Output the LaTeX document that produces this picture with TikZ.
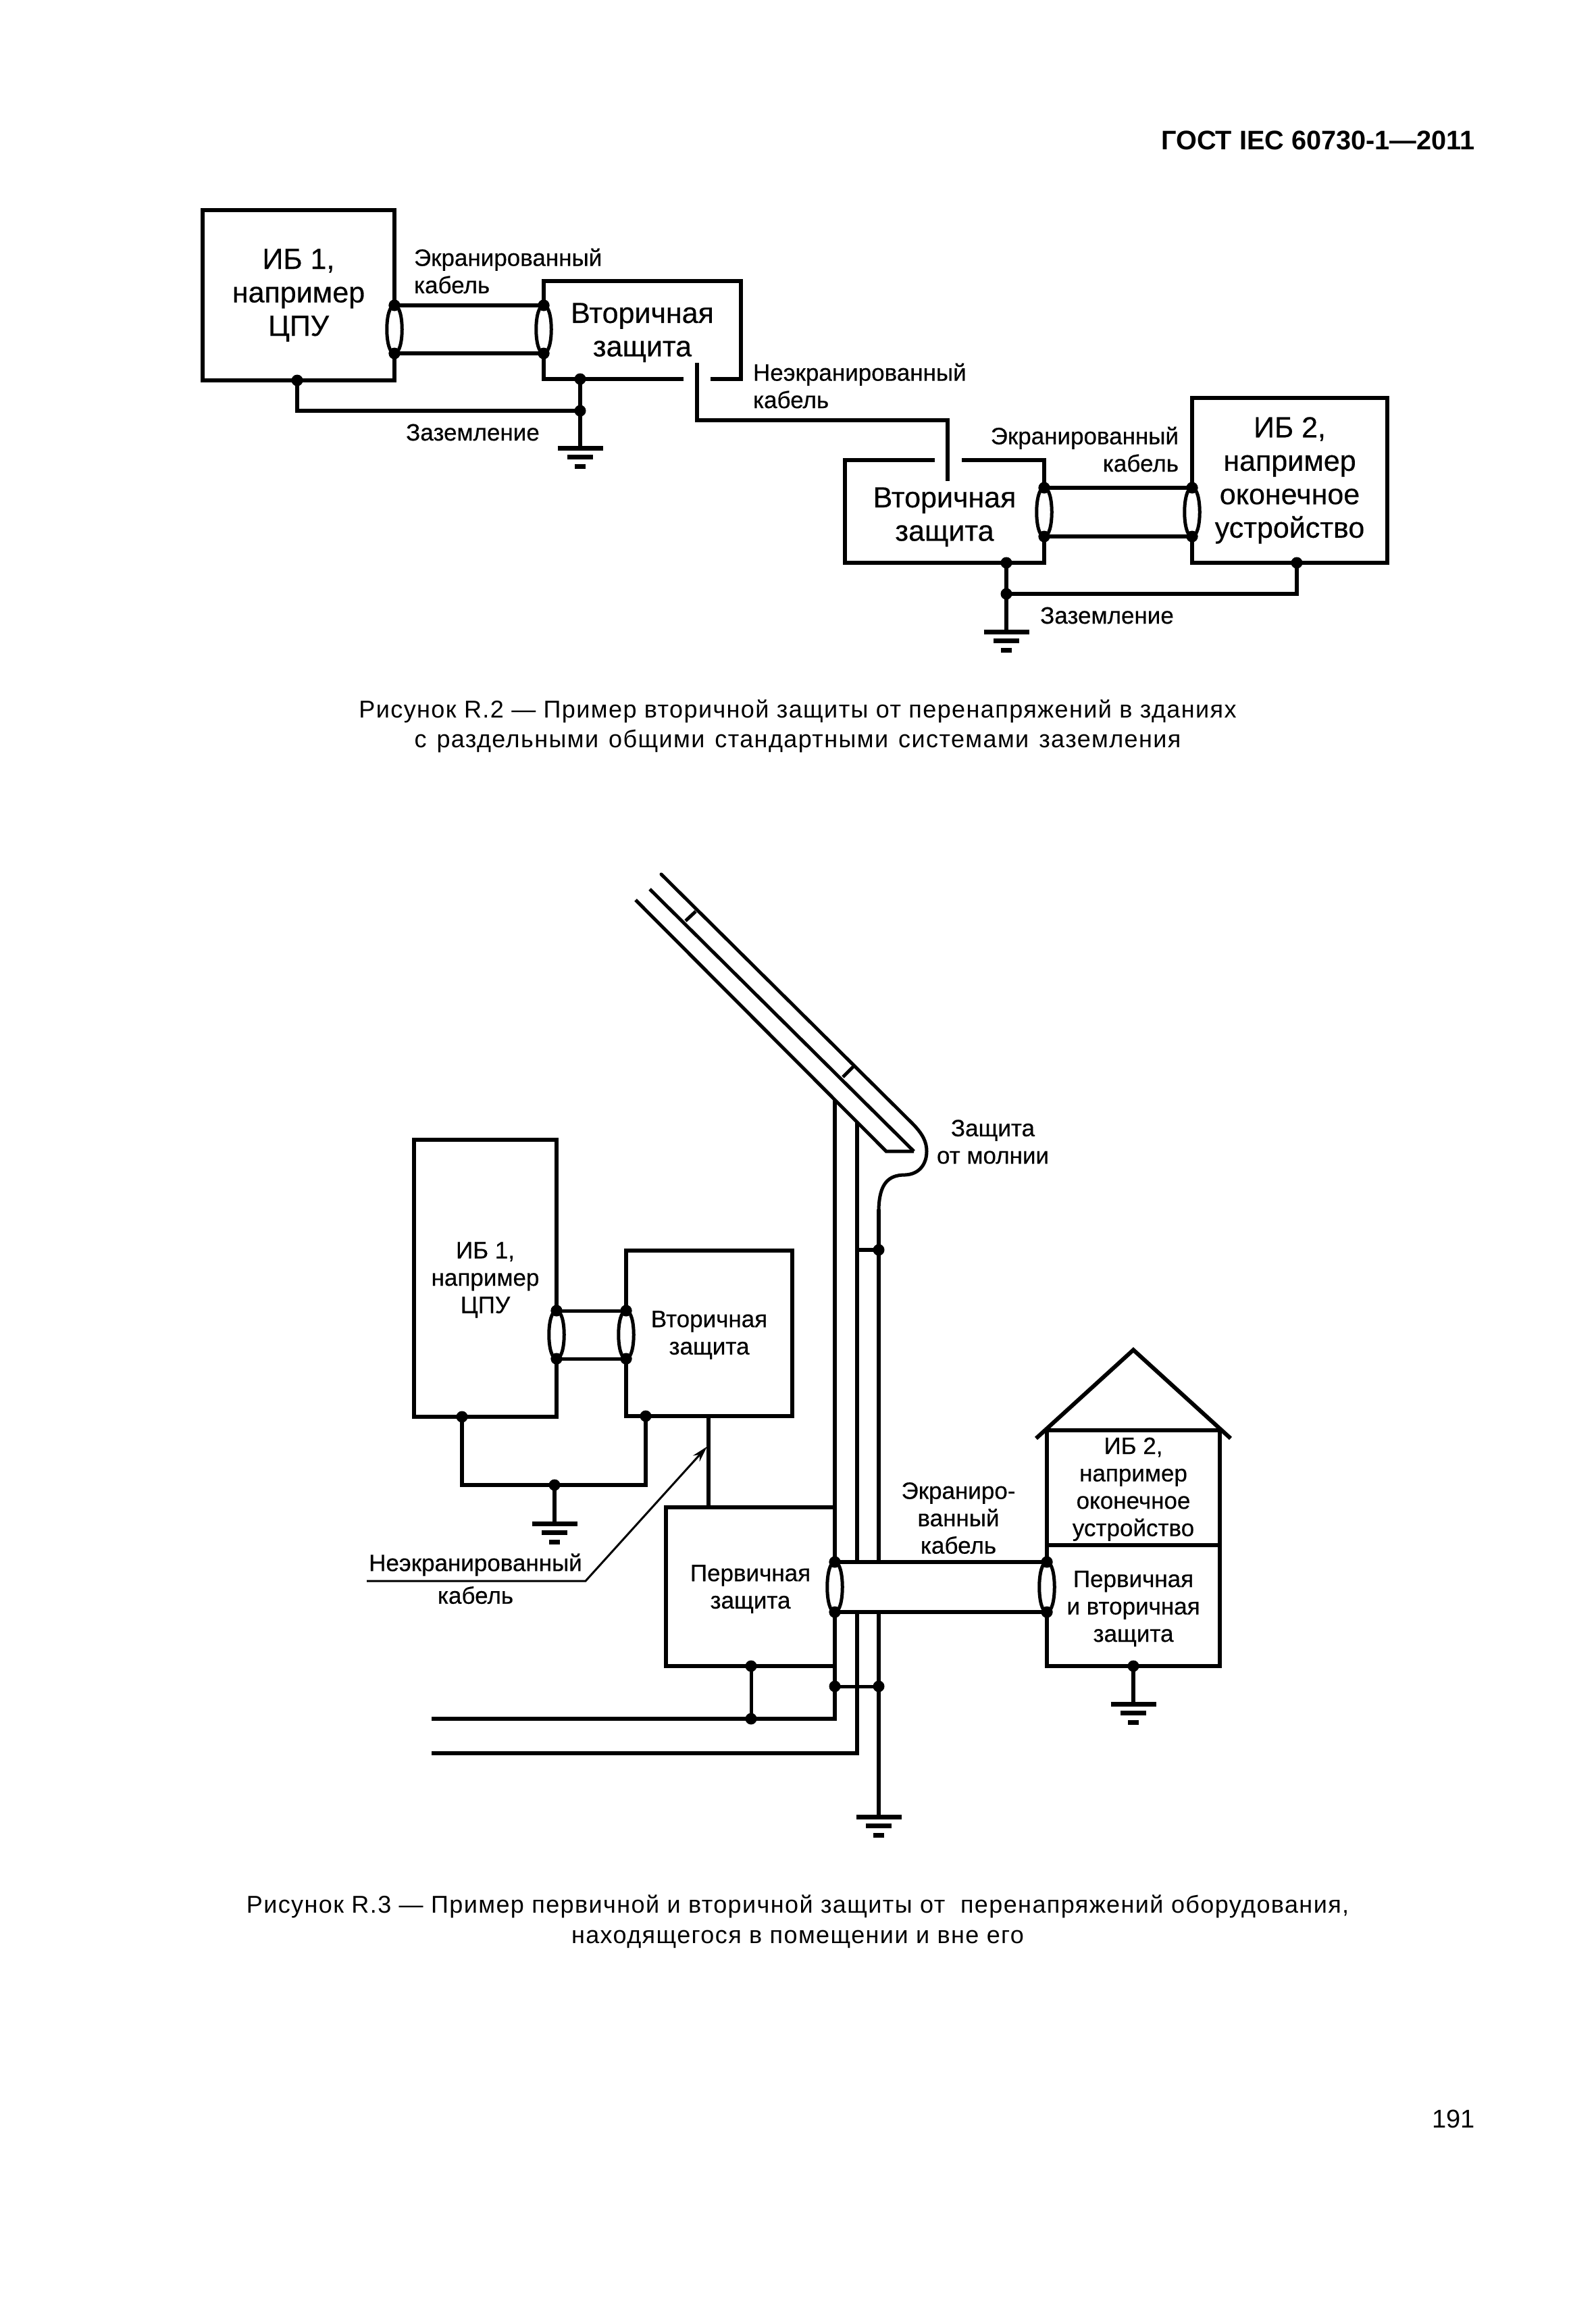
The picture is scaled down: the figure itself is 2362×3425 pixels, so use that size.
\documentclass[tikz,border=0pt]{standalone}
\usepackage{fontspec}
\setmainfont{Liberation Sans}
\usetikzlibrary{arrows.meta,calc}
\newcommand{\bigtext}{\fontsize{43}{49.5}\selectfont\addfontfeature{FakeBold=0.4}}
\newcommand{\smalltext}{\fontsize{35}{40.5}\selectfont\addfontfeature{FakeBold=0.4}}
\newcommand{\captext}{\fontsize{36}{44.5}\selectfont\addfontfeature{LetterSpace=3.9}}
\newcommand{\topfix}[1]{\rule{0pt}{#1pt}}
\newcommand{\lensat}[2]{%
  \draw[white,line width=8pt] (#1.center) -- (#2.center);
  \draw[lensline] (#1.center) .. controls ($(#1.center)+(15,0)$) and ($(#2.center)+(15,0)$) .. (#2.center);
  \draw[lensline] (#1.center) .. controls ($(#1.center)+(-15,0)$) and ($(#2.center)+(-15,0)$) .. (#2.center);
  \fill[black] (#1.center) circle[radius=8.5];
  \fill[black] (#2.center) circle[radius=8.5];
}
\newcommand{\earthat}[1]{%
  \draw[earthbar] ($(#1)+(-33.5,0)$) -- ($(#1)+(33.5,0)$);
  \draw[earthbar] ($(#1)+(-19,13)$) -- ($(#1)+(19,13)$);
  \draw[earthbar] ($(#1)+(-8,27)$) -- ($(#1)+(8,27)$);
}
\tikzset{
  box/.style={draw=black,line width=6pt,rectangle,inner sep=0pt,outer sep=0pt,align=center},
  bigbox/.style={box,font=\bigtext},
  smallbox/.style={box,font=\smalltext},
  wire/.style={draw=black,line width=6pt,line cap=butt,line join=miter},
  thinwire/.style={draw=black,line width=5pt,line cap=butt,line join=miter},
  lensline/.style={draw=black,line width=5pt},
  earthbar/.style={draw=black,line width=7pt},
  junction/.style={circle,fill=black,inner sep=0pt,outer sep=0pt,minimum size=17pt},
  lbl/.style={inner sep=0pt,outer sep=0pt,font=\smalltext},
  capnode/.style={inner sep=0pt,outer sep=0pt,align=center,font=\captext},
}
\begin{document}
\begin{tikzpicture}[x=1pt,y=-1pt]
\useasboundingbox (0,0) rectangle (2362,3425);
\fill[white] (0,0) rectangle (2362,3425);

\node[inner sep=0pt,anchor=east,font=\fontsize{39.7}{48}\selectfont\bfseries] (hdr) at (2184,208) {ГОСТ IEC 60730-1—2011};
\node[inner sep=0pt,anchor=east,font=\fontsize{38}{44}\selectfont] (pg) at (2184,3136) {191};

%%% Figure R.2
\node[bigbox,minimum width=284pt,minimum height=252pt] (ibA) at (442,437) {ИБ 1,\\например\\ЦПУ};
\node[bigbox,minimum width=292pt,minimum height=145pt] (secA) at (951,488.5) {\topfix{37}Вторичная\\защита};
\node[bigbox,minimum width=295pt,minimum height=152pt] (secB) at (1398.5,757) {\topfix{46}Вторичная\\защита};
\node[bigbox,minimum width=289pt,minimum height=244pt] (ibB) at (1909.5,711) {ИБ 2,\\например\\оконечное\\устройство};

\node[junction] (a1) at (584,452) {};
\node[junction] (a2) at (584,523) {};
\node[junction] (a3) at (805,452) {};
\node[junction] (a4) at (805,523) {};
\draw[wire] (a1.center) -- (a3.center);
\draw[wire] (a2.center) -- (a4.center);
\lensat{a1}{a2}
\lensat{a3}{a4}

\node[junction] (b1) at (1546,722) {};
\node[junction] (b2) at (1546,794) {};
\node[junction] (b3) at (1765,722) {};
\node[junction] (b4) at (1765,794) {};
\draw[wire] (b1.center) -- (b3.center);
\draw[wire] (b2.center) -- (b4.center);
\lensat{b1}{b2}
\lensat{b3}{b4}

% unscreened cable through the gaps
\draw[white,line width=9pt] (1012,561) -- (1052,561);
\draw[white,line width=9pt] (1384,681) -- (1424,681);
\coordinate (u1) at (1032,537);
\coordinate (u2) at (1403,622);
\coordinate (u3) at (1403,712);
\draw[wire] (u1) |- (u2) -- (u3);

% earth, left
\node[junction] (g1) at (440,563) {};
\node[junction] (g2) at (859,561) {};
\node[junction] (g3) at (859,608) {};
\coordinate (e1) at (859,663);
\draw[wire] (g1.center) |- (g3.center);
\draw[wire] (g2.center) -- (e1);
\earthat{e1}

% earth, right
\node[junction] (g4) at (1490,833) {};
\node[junction] (g5) at (1490,879) {};
\node[junction] (g6) at (1920,833) {};
\coordinate (e2) at (1490,935);
\draw[wire] (g4.center) -- (e2);
\draw[wire] (g5.center) -| (g6.center);
\earthat{e2}

\node[lbl,anchor=west,align=left] (l1) at (613,401) {Экранированный\\кабель};
\node[lbl,anchor=west,align=left] (l2) at (1115,571) {Неэкранированный\\кабель};
\node[lbl,anchor=east,align=right] (l3) at (1745,665) {Экранированный\\кабель};
\node[lbl] (l4) at (700,640) {Заземление};
\node[lbl] (l5) at (1639,911) {Заземление};

\node[capnode] (capA) at (1181,1075) {Рисунок R.2 — Пример вторичной защиты от перенапряжений в зданиях\\{\spaceskip=15pt с раздельными общими стандартными системами заземления}};

%%% Figure R.3
\node[smallbox,minimum width=211pt,minimum height=410pt] (ibC) at (718.5,1892) {\topfix{29}ИБ 1,\\например\\ЦПУ};
\node[smallbox,minimum width=246pt,minimum height=245pt] (secC) at (1050,1973.5) {\topfix{29}Вторичная\\защита};
\node[smallbox,minimum width=250pt,minimum height=235pt] (prim) at (1111,2348.5) {\topfix{31}Первичная\\защита};
\node[smallbox,minimum width=256pt,minimum height=170pt] (ibD) at (1678,2202) {\topfix{29}ИБ 2,\\например\\оконечное\\устройство};
\node[smallbox,minimum width=256pt,minimum height=179pt] (both) at (1678,2376.5) {\topfix{33}Первичная\\и вторичная\\защита};

% roof and downlead
\coordinate (r1) at (979,1294);
\coordinate (r2) at (1350,1662);
\coordinate (r3) at (1372,1704);
\coordinate (r4) at (1340,1739);
\coordinate (r5) at (1301,1790);
\coordinate (r6) at (962,1316);
\coordinate (r7) at (1353,1704);
\coordinate (r8) at (941,1332);
\coordinate (r9) at (1312,1704);
\coordinate (t1) at (1030,1349);
\coordinate (t2) at (1015,1363);
\coordinate (t3) at (1264,1578);
\coordinate (t4) at (1248,1594);
\draw[thinwire,line cap=round] (r1) -- (r2) .. controls (1366,1678) and (1372,1690) .. (r3) .. controls (1372,1722) and (1362,1738) .. (r4) .. controls (1315,1739) and (1302,1752) .. (r5);
\draw[thinwire] (r6) -- (r7);
\draw[thinwire] (r8) -- (r9) -- (r7);
\draw[thinwire] (t1) -- (t2);
\draw[thinwire] (t3) -- (t4);

% shield line, power lines
\coordinate (v1t) at (1236,1627);
\coordinate (v2t) at (1269,1660);
\node[junction] (c1) at (1236,2312) {};
\node[junction] (c2) at (1236,2386) {};
\node[junction] (c3) at (1550,2312) {};
\node[junction] (c4) at (1550,2386) {};
\node[junction] (d1) at (1301,1850) {};
\coordinate (d0) at (1269,1850);
\coordinate (v2a) at (1269,2312);
\coordinate (v3a) at (1301,2312);
\coordinate (v2b) at (1269,2386);
\coordinate (v3b) at (1301,2386);
\coordinate (e3) at (1301,2689);
\node[junction] (d2) at (1236,2496) {};
\node[junction] (d3) at (1301,2496) {};
\node[junction] (d4) at (1112,2466) {};
\node[junction] (d5) at (1112,2544) {};
\coordinate (p1) at (639,2544);
\coordinate (p2) at (639,2595);
\coordinate (p3) at (1236,2544);
\coordinate (p4) at (1269,2595);

\draw[wire] (v1t) -- (c1.center);
\draw[wire] (v2t) -- (v2a);
\draw[wire] (r5) -- (v3a);
\draw[wire] (d0) -- (d1.center);
\draw[wire] (c1.center) -- (c3.center);
\draw[wire] (c2.center) -- (c4.center);
\draw[wire] (c2.center) -- (p3) -- (p1);
\draw[wire] (v2b) -- (p4) -- (p2);
\draw[wire] (v3b) -- (e3);
\draw[thinwire] (d2.center) -- (d3.center);
\draw[thinwire] (d4.center) -- (d5.center);
\earthat{e3}
\lensat{c1}{c2}
\lensat{c3}{c4}

% screened cable, indoors
\node[junction] (f1) at (824,1940) {};
\node[junction] (f2) at (824,2011) {};
\node[junction] (f3) at (927,1940) {};
\node[junction] (f4) at (927,2011) {};
\draw[thinwire] (f1.center) -- (f3.center);
\draw[thinwire] (f2.center) -- (f4.center);
\lensat{f1}{f2}
\lensat{f3}{f4}

\node[junction] (h1) at (684,2097) {};
\node[junction] (h2) at (956,2096) {};
\node[junction] (h3) at (821,2198) {};
\coordinate (e4) at (821,2255);
\draw[wire] (h1.center) |- (h3.center) -| (h2.center);
\draw[wire] (h3.center) -- (e4);
\earthat{e4}

\coordinate (w1) at (1049,2096);
\coordinate (w2) at (1049,2231);
\draw[wire] (w1) -- (w2);

% house
\coordinate (hl) at (1534,2129);
\coordinate (ha) at (1678,1998);
\coordinate (hr) at (1822,2129);
\draw[thinwire,line width=6pt] (hl) -- (ha) -- (hr);
\node[junction] (k1) at (1678,2466) {};
\coordinate (e5) at (1678,2522);
\draw[wire] (k1.center) -- (e5);
\earthat{e5}

% leader
\coordinate (n1) at (543,2340);
\coordinate (n2) at (867,2340);
\coordinate (n3) at (1047,2141);
\draw[line width=3pt,-{Stealth[length=24pt,width=13pt]}] (n1) -- (n2) -- (n3);

\node[lbl] (m1) at (704,2316) {Неэкранированный};
\node[lbl] (m2) at (704,2361) {кабель};
\node[lbl,align=center] (m3) at (1470,1690) {Защита\\от молнии};
\node[lbl,align=center] (m4) at (1419,2247) {Экраниро-\\ванный\\кабель};

\node[capnode] (capB) at (1181,2844) {Рисунок R.3 — Пример первичной и вторичной защиты от \ перенапряжений оборудования,\\находящегося в помещении и вне его};
\end{tikzpicture}
\end{document}
